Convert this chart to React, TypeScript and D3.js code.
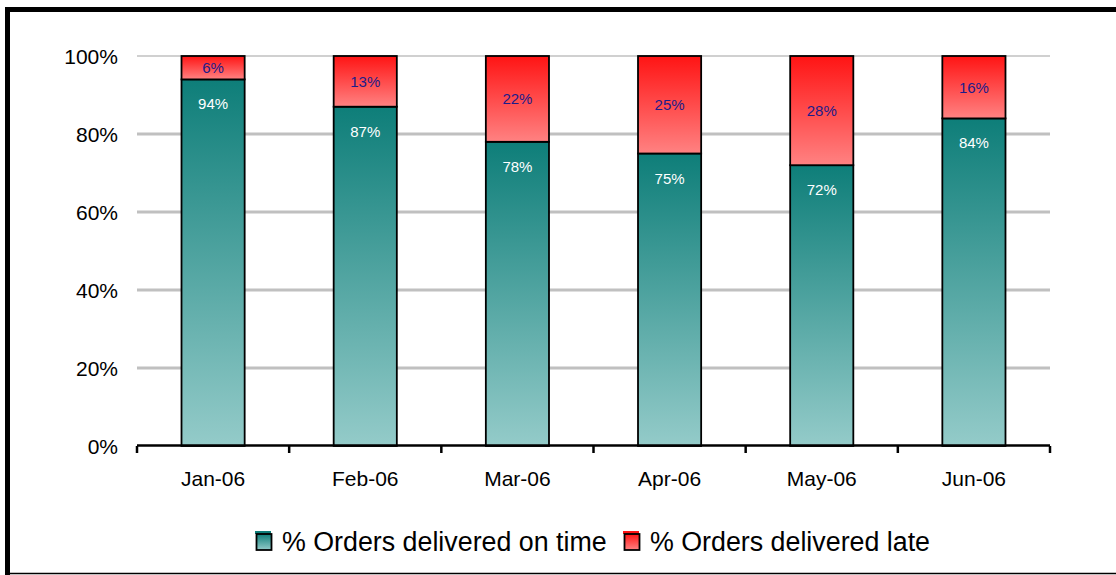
import React from "react";
import * as d3 from "d3";

const categories = ["Jan-06", "Feb-06", "Mar-06", "Apr-06", "May-06", "Jun-06"];
const onTime = [94, 87, 78, 75, 72, 84];
const late = [6, 13, 22, 25, 28, 16];
const yTicks = [0, 20, 40, 60, 80, 100];
const seriesNames = ["% Orders delivered on time", "% Orders delivered late"];

const W = 1116, H = 575;
const left = 137, right = 1050, top = 56, bottom = 446;

export default function App() {
  const x = d3.scaleBand<string>().domain(categories).range([left, right]).paddingInner(0).paddingOuter(0);
  const y = d3.scaleLinear().domain([0, 100]).range([bottom, top]);
  const bw = x.bandwidth() * 0.415;
  const font = "Arial, 'Liberation Sans', sans-serif";
  const boundaries = categories.map((c) => x(c)!).concat([right]);

  return (
    <svg width={W} height={H} style={{ position: "absolute", left: 0, top: 0 }} fontFamily={font}>
      <defs>
        <linearGradient id="teal" x1="0" y1="0" x2="0" y2="1">
          <stop offset="0" stopColor="#0e7e79" />
          <stop offset="1" stopColor="#94cbc9" />
        </linearGradient>
        <linearGradient id="red" x1="0" y1="0" x2="0" y2="1">
          <stop offset="0" stopColor="#ff1414" />
          <stop offset="1" stopColor="#ff8282" />
        </linearGradient>
      </defs>
      <rect x={0} y={0} width={W} height={H} fill="#fff" />
      {/* border */}
      <rect x={5} y={7} width={W} height={5} fill="#000" />
      <rect x={5} y={7} width={5} height={H} fill="#000" />
      <line x1={5} x2={W} y1={573.5} y2={573.5} stroke="#000" strokeWidth={1.5} />

      {/* gridlines */}
      {yTicks.filter((t) => t > 0).map((t) => (
        <line key={t} x1={left} x2={right} y1={y(t)} y2={y(t)}
          stroke={t === 100 ? "#d0d0d0" : "#c0c0c0"} strokeWidth={t === 100 ? 2 : 3} />
      ))}

      {/* y labels */}
      {yTicks.map((t) => (
        <text key={t} x={118} y={y(t) + 7.8} textAnchor="end" fontSize={21} fill="#000">{t}%</text>
      ))}

      {/* bars */}
      {categories.map((c, i) => {
        const cx = x(c)! + x.bandwidth() / 2;
        const x0 = cx - bw / 2;
        const yOn = y(onTime[i]);
        const yLate = y(onTime[i] + late[i]);
        return (
          <g key={c}>
            <rect x={x0} y={yOn} width={bw} height={bottom - yOn} fill="url(#teal)" stroke="#000" strokeWidth={1.8} />
            <rect x={x0} y={yLate} width={bw} height={yOn - yLate} fill="url(#red)" stroke="#000" strokeWidth={1.8} />
            <text x={cx} y={(yOn + yLate) / 2 + 5.3} textAnchor="middle" fontSize={15} fill="#1c1c8a">{late[i]}%</text>
            <text x={cx} y={yOn + 30} textAnchor="middle" fontSize={15} fill="#fff">{onTime[i]}%</text>
          </g>
        );
      })}

      {/* x axis */}
      <line x1={left} x2={right} y1={bottom - 0.5} y2={bottom - 0.5} stroke="#000" strokeWidth={2.5} />
      {boundaries.map((b, i) => (
        <line key={i} x1={b} x2={b} y1={bottom} y2={bottom + 7} stroke="#000" strokeWidth={2.5} />
      ))}
      {categories.map((c) => (
        <text key={c} x={x(c)! + x.bandwidth() / 2} y={485.5} textAnchor="middle" fontSize={21} fill="#000">{c}</text>
      ))}

      {/* legend */}
      {[{ fill: "url(#teal)", band: "#0e7e79", mx: 255, tx: 282 }, { fill: "url(#red)", band: "#ff1414", mx: 623, tx: 650 }].map((l, i) => (
        <g key={i}>
          <rect x={l.mx} y={531} width={16} height={3} fill={l.band} />
          <rect x={l.mx + 1.5} y={534} width={15} height={16} fill={l.fill} stroke="#000" strokeWidth={1.8} />
          <text x={l.tx} y={551} fontSize={26.8} fill="#000">{seriesNames[i]}</text>
        </g>
      ))}
    </svg>
  );
}
